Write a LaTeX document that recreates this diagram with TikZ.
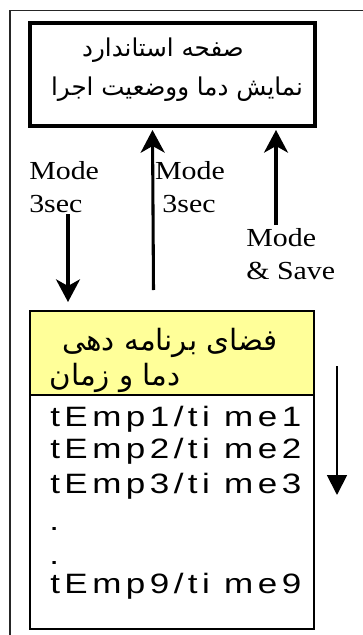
\documentclass[tikz,border=0pt]{standalone}
\usepackage{fontspec}
\usetikzlibrary{arrows.meta}
\setmainfont{Liberation Serif}
\newfontfamily\arabicfont[Script=Arabic]{DejaVu Sans}
\newfontfamily\bodyfont[FakeStretch=1.25, LetterSpace=16]{Liberation Sans}
\newfontfamily\modefont[FakeStretch=1.15]{Liberation Serif}
\TeXXeTstate=1
\definecolor{hdryellow}{HTML}{FFFF99}
\tikzset{
  frame/.style={line width=1.1pt, black!85},
  stdbox/.style={draw, line width=3pt, inner sep=0pt},
  progbox/.style={draw, line width=1.5pt, inner sep=0pt},
  modelbl/.style={font=\modefont\fontsize{19.5}{24.5}\selectfont, inner sep=0pt, anchor=base west},
  fatxt/.style={font=\arabicfont\fontsize{18.4}{22}\selectfont, inner sep=0pt, anchor=base},
  hdtxt/.style={font=\arabicfont\fontsize{22}{26}\selectfont, inner sep=0pt, anchor=base},
  bodytxt/.style={font=\bodyfont\fontsize{21}{25}\selectfont, inner sep=0pt, anchor=base west},
  bigarrow/.style={line width=2.3pt, -{Stealth[length=17pt, width=18pt, inset=5pt]}},
  thinarrow/.style={line width=1.4pt, -{Triangle[length=15pt, width=15pt]}},
}
\begin{document}
\begin{tikzpicture}[x=0.75pt, y=-0.75pt]
\useasboundingbox (0,0) rectangle (362,635);
% outer frame (only top and left edges fall inside the page)
\draw[frame] (10,700) -- (10,10.5) -- (400,10.5);
% standard screen box
\node[stdbox, minimum width=213.4pt, minimum height=77.25pt] (std) at (172.25,74.5) {};
\node[fatxt] (std1) at (163,57) {\beginR صفحه استاندارد\endR};
\node[fatxt] (std2) at (177,95) {\beginR نمایش دما ووضعیت اجرا\endR};
% programming box
\fill[hdryellow] (30.25,311.75) rectangle (312.75,395);
\draw[line width=1.5pt] (29.5,395) -- (313.5,395);
\node[progbox, minimum width=213pt, minimum height=238.5pt] (prog) at (171.5,469.5) {};
\node[hdtxt] (hd1) at (170,350) {\beginR فضای برنامه دهی\endR};
\node[hdtxt] (hd2) at (115,385) {\beginR دما و زمان\endR};
\node[bodytxt] (t1) at (50,426) {tEmp1/ti me1};
\node[bodytxt] (t2) at (50,458) {tEmp2/ti me2};
\node[bodytxt] (t3) at (50,493) {tEmp3/ti me3};
\node[bodytxt] (d1) at (49,530) {.};
\node[bodytxt] (d2) at (49,564) {.};
\node[bodytxt] (t9) at (50,593) {tEmp9/ti me9};
% labels
\node[modelbl] (m1a) at (29,179) {Mode};
\node[modelbl] (m1b) at (29,212.5) {3sec};
\node[modelbl, anchor=base] (m2a) at (190,179) {Mode};
\node[modelbl, anchor=base] (m2b) at (189,212.5) {3sec};
\node[modelbl] (m3a) at (246,246.5) {Mode};
\node[modelbl] (m3b) at (246,279) {\& Save};
% arrow ends
\coordinate (a1s) at (68,214);
\coordinate (a1e) at (68,302);
\coordinate (a2s) at (153.5,290);
\coordinate (a2e) at (152.5,130);
\coordinate (a3s) at (276,225);
\coordinate (a3e) at (276,130);
\coordinate (a4s) at (337,366);
\coordinate (a4e) at (337,495);
\draw[bigarrow] (a1s) -- (a1e);
\draw[bigarrow] (a2s) -- (a2e);
\draw[bigarrow] (a3s) -- (a3e);
\draw[thinarrow] (a4s) -- (a4e);
\end{tikzpicture}
\end{document}
